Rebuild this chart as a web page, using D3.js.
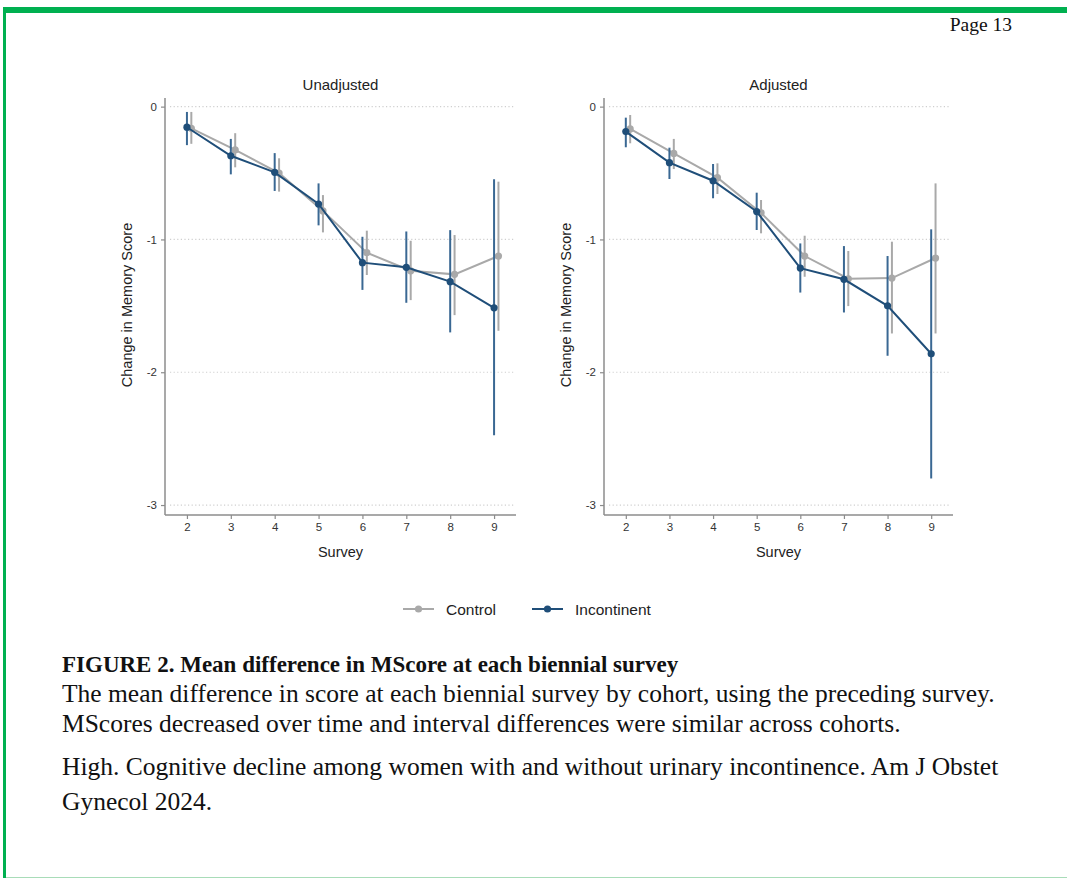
<!DOCTYPE html>
<html>
<head>
<meta charset="utf-8">
<script src="https://cdn.jsdelivr.net/npm/d3@7"></script>
<style>
  body { margin: 0; background: #fff; }
  svg { display: block; }
</style>
</head>
<body>
<svg id="chart" width="1067" height="880"></svg>
<script>
var surveys = [2, 3, 4, 5, 6, 7, 8, 9];
var yTicks = [0, -1, -2, -3];
var seriesNames = ["Control", "Incontinent"];

// Unadjusted panel
var unadjControl    = [-0.163, -0.326, -0.500, -0.785, -1.100, -1.236, -1.263, -1.125];
var unadjControlLo  = [-0.280, -0.457, -0.640, -0.947, -1.268, -1.457, -1.570, -1.688];
var unadjControlHi  = [-0.040, -0.200, -0.389, -0.666, -0.934, -1.010, -0.967, -0.565];
var unadjIncont     = [-0.155, -0.370, -0.495, -0.733, -1.175, -1.210, -1.318, -1.515];
var unadjIncontLo   = [-0.290, -0.510, -0.635, -0.894, -1.380, -1.477, -1.700, -2.474];
var unadjIncontHi   = [-0.040, -0.243, -0.350, -0.578, -0.980, -0.940, -0.930, -0.547];

// Adjusted panel
var adjControl      = [-0.168, -0.352, -0.535, -0.800, -1.125, -1.296, -1.291, -1.140];
var adjControlLo    = [-0.276, -0.470, -0.658, -0.954, -1.281, -1.502, -1.708, -1.708];
var adjControlHi    = [-0.063, -0.243, -0.427, -0.703, -0.972, -1.087, -1.017, -0.578];
var adjIncont       = [-0.188, -0.422, -0.558, -0.790, -1.216, -1.300, -1.500, -1.861];
var adjIncontLo     = [-0.306, -0.545, -0.690, -0.929, -1.400, -1.550, -1.876, -2.800];
var adjIncontHi     = [-0.083, -0.309, -0.432, -0.648, -1.030, -1.050, -1.125, -0.924];

var grayCol = "#a9a9a9";
var navyCol = "#1f4e79";
var spikeNavy = "#3a6893";
var sans = "'Liberation Sans', Arial, sans-serif";
var serif = "'Liberation Serif', 'Times New Roman', serif";

var svg = d3.select("#chart");

// page frame
svg.append("rect").attr("x", 3).attr("y", 7).attr("width", 1064).attr("height", 6).attr("fill", "#00b050");
svg.append("rect").attr("x", 3).attr("y", 7).attr("width", 3).attr("height", 871).attr("fill", "#00b050");
svg.append("line").attr("x1", 6).attr("x2", 1067).attr("y1", 877.5).attr("y2", 877.5)
  .attr("stroke", "#a8dcb8").attr("stroke-width", 1);

svg.append("text").attr("x", 1012).attr("y", 31).attr("text-anchor", "end")
  .attr("font-family", serif).attr("font-size", 19.5).attr("fill", "#111").text("Page 13");

function makeRows(mean, lo, hi, shift) {
  return surveys.map(function (s, i) {
    return { x: s + shift, y: mean[i], lo: lo[i], hi: hi[i] };
  });
}

function plainNum(d) { return String(d); }

function drawPanel(left, right, title, series) {
  var top = 98, bottom = 515;
  var x = d3.scaleLinear().domain([1.5, 9.5]).range([left, right]);
  var y = d3.scaleLinear().domain([0.065, -3.075]).range([top, bottom]);
  var g = svg.append("g");

  g.append("g").selectAll("line").data(yTicks).enter().append("line")
    .attr("x1", left + 5).attr("x2", right - 2)
    .attr("y1", function (d) { return y(d); }).attr("y2", function (d) { return y(d); })
    .attr("stroke", "#cfcfcf").attr("stroke-width", 1.2).attr("stroke-dasharray", "1.2,2.4");

  var yAxis = g.append("g").attr("transform", "translate(" + left + ",0)")
    .call(d3.axisLeft(y).tickValues(yTicks).tickSize(4).tickPadding(4).tickFormat(plainNum));
  var xAxis = g.append("g").attr("transform", "translate(0," + bottom + ")")
    .call(d3.axisBottom(x).tickValues(surveys).tickSize(4).tickPadding(4).tickFormat(plainNum));
  [yAxis, xAxis].forEach(function (a) {
    a.select(".domain").attr("stroke", "#8c8c8c").attr("stroke-width", 1.5);
    a.selectAll(".tick line").attr("stroke", "#8c8c8c").attr("stroke-width", 1.2);
    a.selectAll("text").attr("font-family", sans).attr("font-size", 11.5).attr("fill", "#333");
  });
  yAxis.select(".domain").attr("d", "M0," + top + "V" + bottom);
  xAxis.select(".domain").attr("d", "M" + left + ",0H" + right);

  g.append("text").attr("x", (left + right) / 2).attr("y", 90).attr("text-anchor", "middle")
    .attr("font-family", sans).attr("font-size", 15).attr("fill", "#222").text(title);
  g.append("text").attr("x", (left + right) / 2).attr("y", 557).attr("text-anchor", "middle")
    .attr("font-family", sans).attr("font-size", 14.5).attr("fill", "#222").text("Survey");
  g.append("text").attr("transform", "translate(" + (left - 33) + ",305) rotate(-90)")
    .attr("text-anchor", "middle").attr("font-family", sans).attr("font-size", 14.5)
    .attr("fill", "#222").text("Change in Memory Score");

  var line = d3.line().x(function (d) { return x(d.x); }).y(function (d) { return y(d.y); });

  series.forEach(function (s) {
    var sg = g.append("g");
    sg.selectAll("line.spike").data(s.rows).enter().append("line").attr("class", "spike")
      .attr("x1", function (d) { return x(d.x); }).attr("x2", function (d) { return x(d.x); })
      .attr("y1", function (d) { return y(d.hi); }).attr("y2", function (d) { return y(d.lo); })
      .attr("stroke", s.spike).attr("stroke-width", 2);
    sg.append("path").datum(s.rows).attr("d", line)
      .attr("fill", "none").attr("stroke", s.color).attr("stroke-width", 2);
    sg.selectAll("circle").data(s.rows).enter().append("circle")
      .attr("cx", function (d) { return x(d.x); }).attr("cy", function (d) { return y(d.y); })
      .attr("r", 3.6).attr("fill", s.color);
  });
}

drawPanel(165, 516, "Unadjusted", [
  { rows: makeRows(unadjControl, unadjControlLo, unadjControlHi, 0.1), color: grayCol, spike: grayCol },
  { rows: makeRows(unadjIncont, unadjIncontLo, unadjIncontHi, 0), color: navyCol, spike: spikeNavy }
]);
drawPanel(604, 953, "Adjusted", [
  { rows: makeRows(adjControl, adjControlLo, adjControlHi, 0.1), color: grayCol, spike: grayCol },
  { rows: makeRows(adjIncont, adjIncontLo, adjIncontHi, 0), color: navyCol, spike: spikeNavy }
]);

// legend
var legend = svg.append("g");
var legendItems = [
  { name: seriesNames[0], color: grayCol, x0: 403 },
  { name: seriesNames[1], color: navyCol, x0: 532 }
];
legendItems.forEach(function (d) {
  legend.append("line").attr("x1", d.x0).attr("x2", d.x0 + 31).attr("y1", 609).attr("y2", 609)
    .attr("stroke", d.color).attr("stroke-width", 2);
  legend.append("circle").attr("cx", d.x0 + 15.5).attr("cy", 609).attr("r", 3.6).attr("fill", d.color);
  legend.append("text").attr("x", d.x0 + 43).attr("y", 614.5)
    .attr("font-family", sans).attr("font-size", 15.5).attr("fill", "#222").text(d.name);
});

// caption
var captionLines = [
  { text: "FIGURE 2. Mean difference in MScore at each biennial survey", y: 672, bold: true },
  { text: "The mean difference in score at each biennial survey by cohort, using the preceding survey.", y: 702 },
  { text: "MScores decreased over time and interval differences were similar across cohorts.", y: 732 },
  { text: "High. Cognitive decline among women with and without urinary incontinence. Am J Obstet", y: 775 },
  { text: "Gynecol 2024.", y: 810 }
];
svg.append("g").selectAll("text").data(captionLines).enter().append("text")
  .attr("x", 62).attr("y", function (d) { return d.y; })
  .attr("font-family", serif)
  .attr("font-size", function (d) { return d.bold ? 23 : 25.5; })
  .attr("font-weight", function (d) { return d.bold ? "bold" : "normal"; })
  .attr("fill", "#111")
  .text(function (d) { return d.text; });
</script>
</body>
</html>
